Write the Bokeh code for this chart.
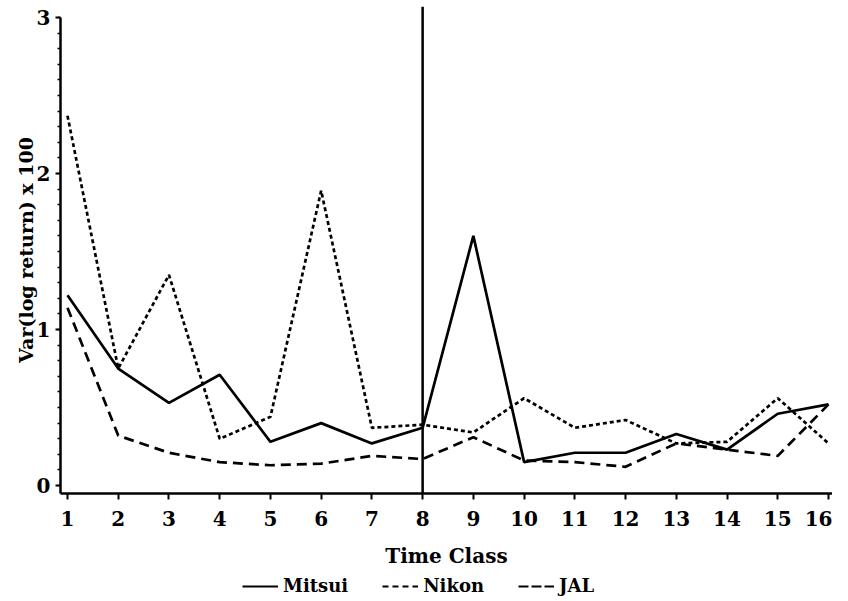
from bokeh.plotting import figure
from bokeh.models import Span, Legend, LegendItem, FixedTicker, Range1d
from bokeh.layouts import column
from bokeh.embed import file_html
from bokeh.resources import INLINE

time_class = list(range(1, 17))
mitsui = [1.22, 0.75, 0.53, 0.71, 0.28, 0.40, 0.27, 0.37, 1.60, 0.15, 0.21, 0.21, 0.33, 0.23, 0.46, 0.52]
nikon = [2.37, 0.75, 1.35, 0.30, 0.44, 1.89, 0.37, 0.39, 0.34, 0.56, 0.37, 0.42, 0.27, 0.28, 0.56, 0.27]
jal = [1.14, 0.32, 0.21, 0.15, 0.13, 0.14, 0.19, 0.17, 0.31, 0.16, 0.15, 0.12, 0.27, 0.23, 0.19, 0.52]
series_names = ["Mitsui", "Nikon", "JAL"]
y_ticks = [0, 1, 2, 3]
split_class = 8

FONT = "DejaVu Serif"
NIKON_DASH = "4 3"
JAL_DASH = "10 6"

p = figure(width=832, height=573, output_backend="svg", toolbar_location=None,
           x_range=Range1d(0.862, 16.079), y_range=Range1d(-0.051, 3.07),
           min_border_left=60, min_border_right=0, min_border_top=6, min_border_bottom=80)
p.outline_line_color = None
p.xgrid.visible = False
p.ygrid.visible = False
p.background_fill_color = "white"

p.line(time_class, mitsui, line_color="black", line_width=2.7)
p.line(time_class, nikon, line_color="black", line_width=2.7, line_dash=NIKON_DASH)
p.line(time_class, jal, line_color="black", line_width=2.7, line_dash=JAL_DASH)

p.add_layout(Span(location=split_class, dimension="height", line_color="black", line_width=2.5))

xa = p.xaxis[0]
xa.ticker = FixedTicker(ticks=time_class)
xa.axis_line_width = 2.5
xa.major_tick_line_width = 2
xa.major_tick_out = 6
xa.major_tick_in = 0
xa.minor_tick_line_color = None
xa.major_label_text_font = FONT
xa.major_label_text_font_style = "bold"
xa.major_label_text_font_size = "20px"
xa.major_label_text_color = "black"
xa.major_label_standoff = 11
xa.axis_label = "Time Class"
xa.axis_label_text_font = FONT
xa.axis_label_text_font_style = "bold"
xa.axis_label_text_font_size = "20px"
xa.axis_label_text_color = "black"
xa.axis_label_standoff = 15

ya = p.yaxis[0]
ya.ticker = FixedTicker(ticks=y_ticks, minor_ticks=[i / 10 for i in range(0, 31)])
ya.bounds = (-0.051, 3.0)
ya.axis_line_width = 2.5
ya.major_tick_line_width = 2
ya.major_tick_out = 5
ya.major_tick_in = 0
ya.minor_tick_out = 3
ya.minor_tick_in = 0
ya.minor_tick_line_width = 1.5
ya.major_label_text_font = FONT
ya.major_label_text_font_style = "bold"
ya.major_label_text_font_size = "20px"
ya.major_label_text_color = "black"
ya.major_label_standoff = 5
ya.axis_label = "Var(log return) x 100"
ya.axis_label_text_font = FONT
ya.axis_label_text_font_style = "bold"
ya.axis_label_text_font_size = "19px"
ya.axis_label_text_color = "black"
ya.axis_label_standoff = -3

# legend strip below the chart (sample lines sit outside the strip's visible range)
lg = figure(width=832, height=25, output_backend="svg", toolbar_location=None,
            x_range=Range1d(0, 1), y_range=Range1d(0, 1),
            min_border_left=60, min_border_right=0, min_border_top=0, min_border_bottom=0)
lg.outline_line_color = None
lg.axis.visible = False
lg.grid.visible = False
hidden = [-5, -4]
l1 = lg.line(hidden, hidden, line_color="black", line_width=2.2)
l2 = lg.line(hidden, hidden, line_color="black", line_width=2.2, line_dash="6 4")
l3 = lg.line(hidden, hidden, line_color="black", line_width=2.2, line_dash="10 3")
legend = Legend(items=[LegendItem(label=series_names[0], renderers=[l1]),
                       LegendItem(label=series_names[1], renderers=[l2]),
                       LegendItem(label=series_names[2], renderers=[l3])],
                orientation="horizontal", location=(182, 2),
                glyph_width=36, label_standoff=5, spacing=34,
                label_text_font=FONT, label_text_font_style="bold",
                label_text_font_size="18px", label_text_color="black",
                border_line_color=None,
                background_fill_alpha=0, padding=0, margin=0)
lg.add_layout(legend, "center")

layout = column(p, lg, spacing=0)
open("out.html", "w").write(file_html(layout, INLINE))
